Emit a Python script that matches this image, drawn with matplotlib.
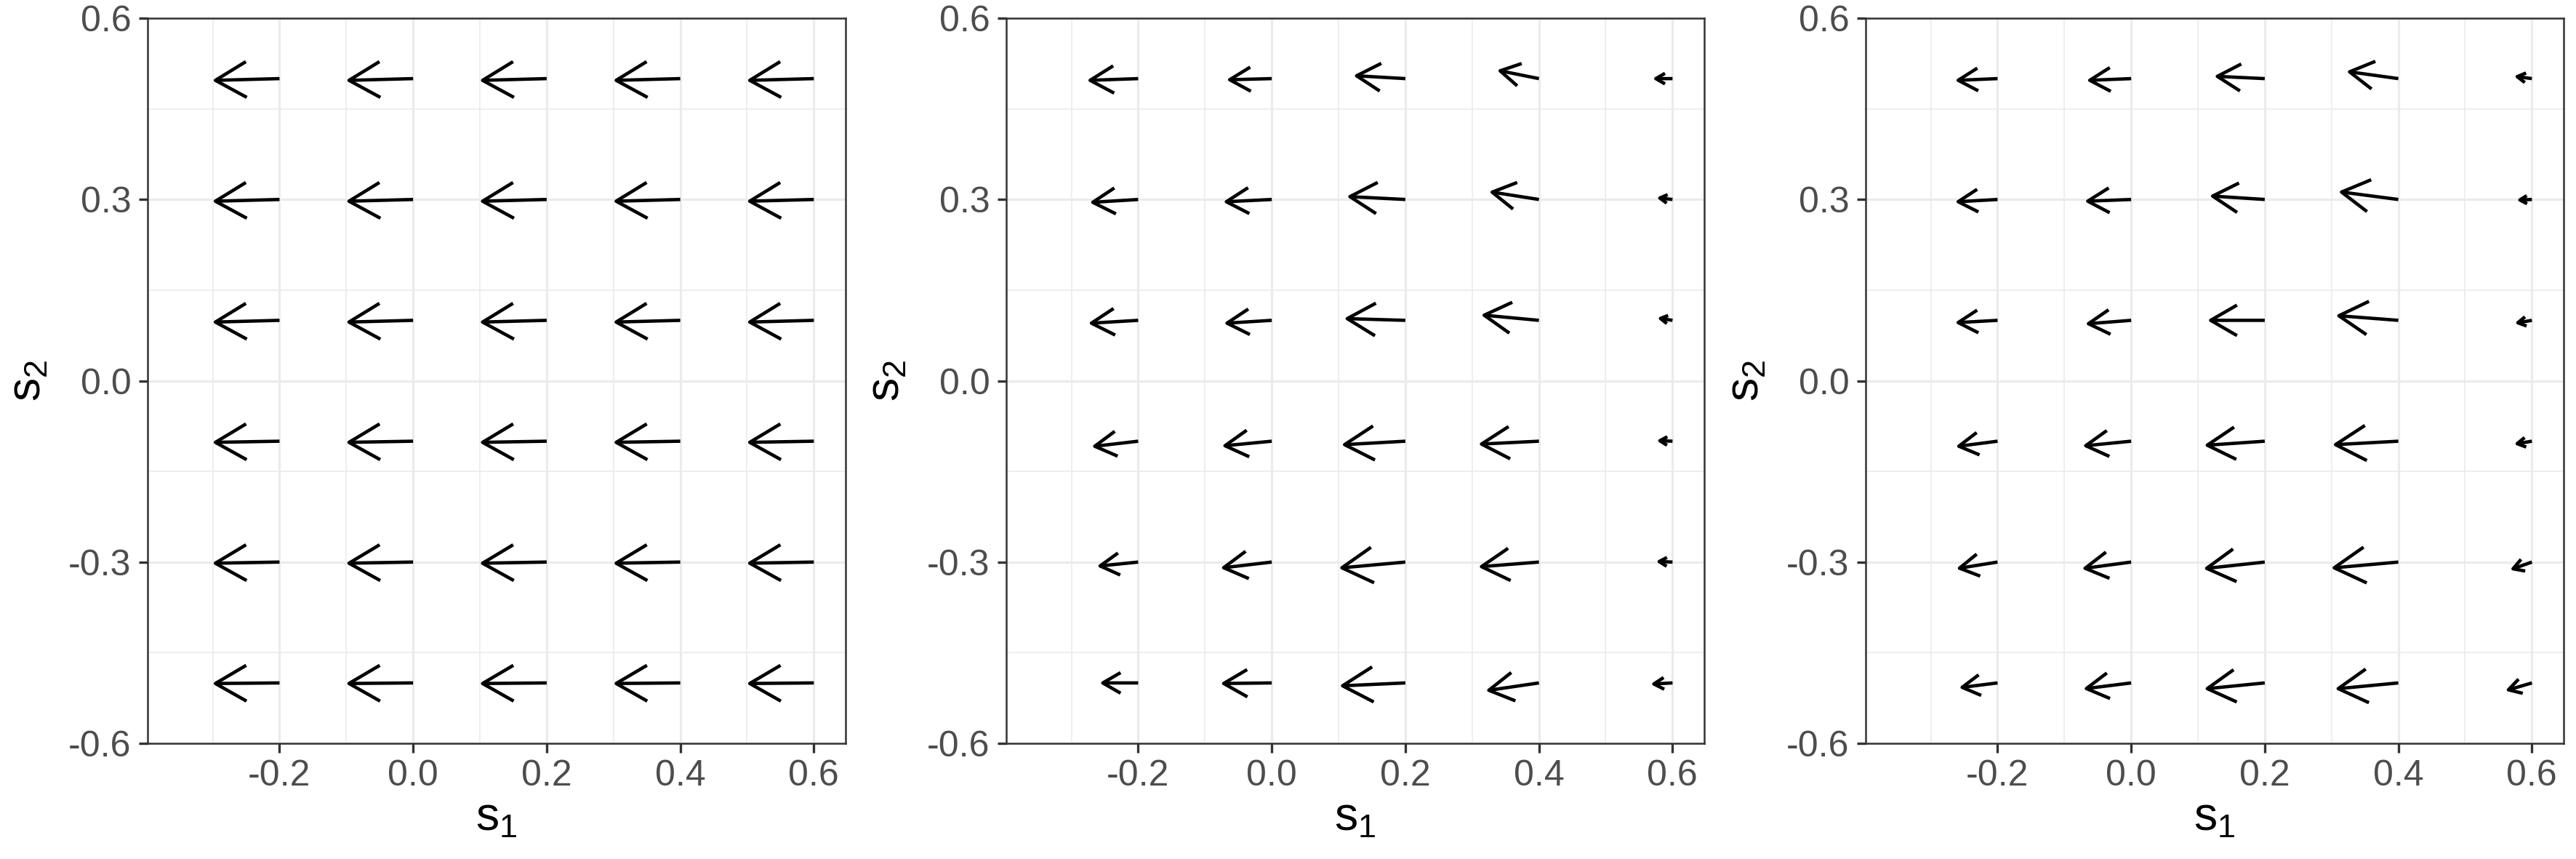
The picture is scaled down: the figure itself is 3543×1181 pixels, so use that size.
import numpy as np
import matplotlib.pyplot as plt
from matplotlib.patches import FancyArrowPatch

plt.rcParams['font.family'] = ['Liberation Sans', 'DejaVu Sans']
plt.rcParams['mathtext.default'] = 'regular'
plt.rcParams['axes.unicode_minus'] = False

# arrow tails
s1_grid = [-0.2, 0.0, 0.2, 0.4, 0.6]
s2_grid = [0.5, 0.3, 0.1, -0.1, -0.3, -0.5]

# arrow displacement, rows follow s2_grid, columns follow s1_grid
dx_left = [[-0.101, -0.101, -0.101, -0.101, -0.101],
           [-0.101, -0.101, -0.101, -0.101, -0.101],
           [-0.101, -0.101, -0.101, -0.101, -0.101],
           [-0.101, -0.101, -0.101, -0.101, -0.101],
           [-0.101, -0.101, -0.101, -0.101, -0.101],
           [-0.101, -0.101, -0.101, -0.101, -0.101]]
dy_left = [[-0.003, -0.003, -0.003, -0.003, -0.003],
           [-0.003, -0.003, -0.003, -0.003, -0.003],
           [-0.003, -0.003, -0.003, -0.003, -0.003],
           [-0.002, -0.002, -0.002, -0.002, -0.002],
           [-0.002, -0.002, -0.002, -0.002, -0.002],
           [-0.001, -0.001, -0.001, -0.001, -0.001]]

dx_mid = [[-0.077, -0.068, -0.078, -0.063, -0.030],
          [-0.073, -0.073, -0.088, -0.075, -0.024],
          [-0.075, -0.072, -0.092, -0.087, -0.023],
          [-0.070, -0.075, -0.096, -0.091, -0.024],
          [-0.062, -0.077, -0.100, -0.091, -0.025],
          [-0.058, -0.077, -0.099, -0.080, -0.033]]
dy_mid = [[-0.003, -0.002, 0.005, 0.014, 0.000],
          [-0.005, -0.004, 0.005, 0.013, 0.003],
          [-0.005, -0.005, 0.003, 0.009, 0.004],
          [-0.009, -0.008, -0.006, -0.005, 0.001],
          [-0.007, -0.010, -0.010, -0.008, 0.001],
          [0.000, -0.001, -0.005, -0.013, -0.002]]

dx_right = [[-0.064, -0.067, -0.076, -0.078, -0.027],
            [-0.064, -0.070, -0.083, -0.090, -0.023],
            [-0.064, -0.069, -0.086, -0.094, -0.026],
            [-0.063, -0.073, -0.091, -0.099, -0.027],
            [-0.062, -0.074, -0.092, -0.101, -0.033],
            [-0.058, -0.072, -0.091, -0.095, -0.040]]
dy_right = [[-0.003, -0.003, 0.004, 0.012, 0.004],
            [-0.004, -0.003, 0.006, 0.013, -0.001],
            [-0.004, -0.006, 0.000, 0.008, -0.005],
            [-0.009, -0.008, -0.007, -0.006, -0.005],
            [-0.011, -0.011, -0.011, -0.010, -0.013],
            [-0.008, -0.010, -0.010, -0.010, -0.013]]

x_major = [-0.2, 0.0, 0.2, 0.4, 0.6]
x_minor = [-0.3, -0.1, 0.1, 0.3, 0.5]
y_major = [-0.6, -0.3, 0.0, 0.3, 0.6]
y_minor = [-0.45, -0.15, 0.15, 0.45]

DPI = 300
W, H = 3543, 1181


def draw_field(ax, dx, dy):
    ax.set_xlim(-0.3975, 0.6475)
    ax.set_ylim(-0.6, 0.6)
    ax.set_xticks(x_major)
    ax.set_xticklabels(['%.1f' % v for v in x_major])
    ax.set_xticks(x_minor, minor=True)
    ax.set_yticks(y_major)
    ax.set_yticklabels(['%.1f' % v for v in y_major])
    ax.set_yticks(y_minor, minor=True)
    ax.set_axisbelow(True)
    ax.grid(which='major', color='#EBEBEB', lw=0.75)
    ax.grid(which='minor', color='#EBEBEB', lw=0.4)
    ax.tick_params(which='major', length=3, width=0.8, color='#333333',
                   labelcolor='#4D4D4D', labelsize=12, pad=2.4)
    ax.tick_params(which='minor', length=0)
    for sp in ax.spines.values():
        sp.set_color('#333333')
        sp.set_linewidth(0.6)
    ax.set_xlabel(r'$s_1$', fontsize=15.5, labelpad=1)
    ax.set_ylabel(r'$s_2$', fontsize=15.5, labelpad=6)

    # head size follows the arrow length on screen
    for i, y0 in enumerate(s2_grid):
        for j, x0 in enumerate(s1_grid):
            x1, y1 = x0 + dx[i][j], y0 + dy[i][j]
            p0 = ax.transData.transform((x0, y0))
            p1 = ax.transData.transform((x1, y1))
            length_pt = np.hypot(*(p1 - p0)) * 72 / DPI
            edge = 0.53 * length_pt
            hl = edge * np.cos(np.radians(30))
            hw = edge * np.sin(np.radians(30))
            arr = FancyArrowPatch((x0, y0), (x1, y1),
                                  arrowstyle='->,head_length=%.3f,head_width=%.3f' % (hl, hw),
                                  mutation_scale=1, shrinkA=0, shrinkB=0,
                                  color='black', lw=1.1, joinstyle='round',
                                  capstyle='butt')
            ax.add_patch(arr)


fig = plt.figure(figsize=(W / DPI, H / DPI), dpi=DPI)
lefts = [203, 1384, 2566]
bottom = 1 - 1022 / H
height = (1022 - 25) / H
panels = [(dx_left, dy_left), (dx_mid, dy_mid), (dx_right, dy_right)]
for left, (dx, dy) in zip(lefts, panels):
    ax = fig.add_axes([left / W, bottom, 960 / W, height])
    draw_field(ax, dx, dy)

fig.savefig('out.png', dpi=DPI, facecolor='white')
